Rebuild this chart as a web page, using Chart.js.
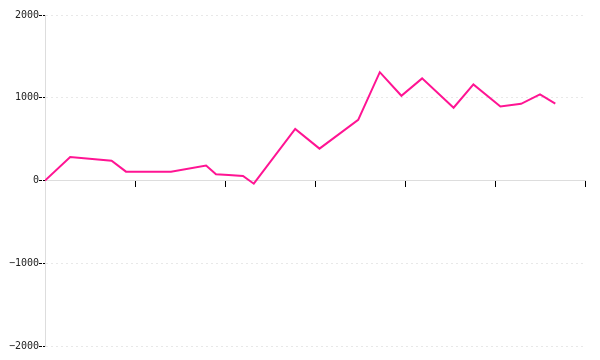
<!DOCTYPE html>
<html>
<head>
<meta charset="utf-8">
<script src="https://cdn.jsdelivr.net/npm/chart.js@4/dist/chart.umd.min.js"></script>
<style>
    body { margin: 0; background: #fff; }
    #chart { display: block; }
</style>
</head>
<body>
<canvas id="chart" width="600" height="360"></canvas>
<script>
// x positions (arbitrary time units, axis runs 0..30) and values
const xValues = [0, 1.4, 3.7, 4.5, 7.0, 8.95, 9.5, 10.2, 11.0, 11.6, 13.9, 15.25, 17.4, 18.6, 19.8, 20.95, 22.7, 23.8, 25.3, 26.45, 27.5, 28.35];
const yValues = [0, 285, 240, 107, 107, 180, 75, 67, 55, -39, 624, 385, 733, 1309, 1024, 1234, 879, 1161, 895, 927, 1040, 930];
const yTicks = [-2000, -1000, 0, 1000, 2000];
const xTicks = [0, 5, 10, 15, 20, 25, 30];

document.addEventListener('DOMContentLoaded', function () {
    const ctx = document.getElementById('chart').getContext('2d');

    const points = xValues.map((x, i) => ({ x: x, y: yValues[i] }));

    new Chart(ctx, {
        type: 'line',
        data: {
            datasets: [{
                data: points,
                borderColor: '#ff1493',
                borderWidth: 2,
                pointRadius: 0,
                tension: 0,
                fill: false
            }]
        },
        options: {
            responsive: false,
            animation: false,
            layout: {
                padding: { left: 0, right: 15, top: 15, bottom: 14 }
            },
            plugins: {
                legend: { display: false },
                tooltip: { enabled: false }
            },
            scales: {
                x: {
                    type: 'linear',
                    position: { y: 0 },
                    min: xTicks[0],
                    max: xTicks[xTicks.length - 1],
                    afterBuildTicks: (scale) => {
                        scale.ticks = xTicks.map(v => ({ value: v }));
                    },
                    ticks: { display: false },
                    grid: {
                        drawOnChartArea: false,
                        tickColor: '#000',
                        tickLength: 6
                    },
                    border: { color: '#dddddd', width: 1 }
                },
                y: {
                    min: yTicks[0],
                    max: yTicks[yTicks.length - 1],
                    afterBuildTicks: (scale) => {
                        scale.ticks = yTicks.map(v => ({ value: v }));
                    },
                    afterFit: (scale) => { scale.width = 45; },
                    ticks: {
                        padding: 0,
                        color: '#222',
                        font: { family: 'DejaVu Sans Mono', size: 10 },
                        callback: (v) => String(v).replace('-', '\u2212')
                    },
                    grid: {
                        color: '#e8e8e8',
                        tickColor: '#000',
                        tickLength: 6,
                        tickBorderDash: [3, 1]
                    },
                    border: { color: '#dddddd', width: 1, dash: [2, 3] }
                }
            }
        }
    });
});
</script>
</body>
</html>
